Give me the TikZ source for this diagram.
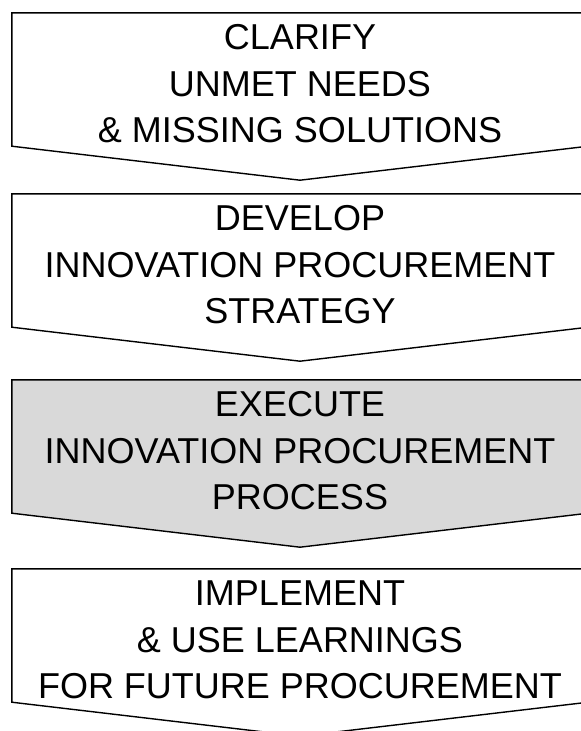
\documentclass[tikz,border=0pt]{standalone}
\usepackage{fontspec}
\setmainfont{Liberation Sans}
\usetikzlibrary{calc}
\definecolor{boxgray}{HTML}{D9D9D9}
\tikzset{
  stagebox/.style={minimum width=576pt, minimum height=133pt, inner sep=0pt},
  stagetext/.style={inner sep=0pt, align=center,
    font=\fontsize{36}{46.5}\selectfont, text=black, yshift=-4.5pt},
  stageline/.style={draw=black, line width=1.4pt, line join=miter},
}
\newcommand{\stageshape}[2]{%
  \path[stageline,fill=#2] (#1.north west) -- (#1.north east) -- (#1.south east)
    -- ($(#1.south)+(0,-34pt)$) -- (#1.south west) -- cycle;}
\begin{document}
\begin{tikzpicture}[x=1pt,y=1pt]
\useasboundingbox (0,0) rectangle (581,-731);
\fill[white] (0,0) rectangle (581,-731);
\node[stagebox] (s1) at (300,-79.5) {};
\node[stagebox] (s2) at (300,-260.5) {};
\node[stagebox] (s3) at (300,-446.5) {};
\node[stagebox] (s4) at (300,-635.5) {};
\stageshape{s1}{white}
\stageshape{s2}{white}
\stageshape{s3}{boxgray}
\stageshape{s4}{white}
\node[stagetext] (t1) at (s1.center) {CLARIFY\\UNMET NEEDS\\\& MISSING SOLUTIONS};
\node[stagetext] (t2) at (s2.center) {DEVELOP\\INNOVATION PROCUREMENT\\STRATEGY};
\node[stagetext] (t3) at (s3.center) {EXECUTE\\INNOVATION PROCUREMENT\\PROCESS};
\node[stagetext] (t4) at (s4.center) {IMPLEMENT\\\& USE LEARNINGS\\FOR FUTURE PROCUREMENT};
\end{tikzpicture}
\end{document}
